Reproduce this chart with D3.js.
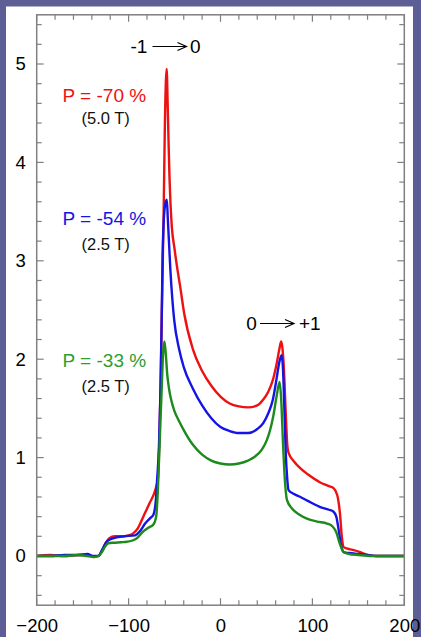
<!DOCTYPE html>
<html><head><meta charset="utf-8">
<script src="https://cdn.jsdelivr.net/npm/d3@7"></script>
<style>html,body{margin:0;padding:0;background:#5e5e96;}svg{display:block;}</style>
</head><body>
<script>
const xTickLabels = [-200, -100, 0, 100, 200];
const yTickLabels = [0, 1, 2, 3, 4, 5];
const seriesNames = ["red", "blue", "green"];
const polarizationLabels = ["P = -70 %", "P = -54 %", "P = -33 %"];
const fieldLabels = ["(5.0 T)", "(2.5 T)", "(2.5 T)"];
const transitionLabels = [["-1", "0"], ["0", "+1"]];

const redCurve = [[-200,0],[-185,0.01],[-170,0],[-155,0.01],[-145,0.01],[-138,-0.01],[-133,0],[-129,0.05],[-125,0.13],[-121,0.18],[-115,0.2],[-108,0.2],[-100,0.21],[-95,0.23],[-90,0.28],[-84,0.4],[-77,0.54],[-71,0.67],[-68,0.8],[-66.5,1.2],[-65,1.8],[-64,2.4],[-62,3.4],[-60.5,4.4],[-58.6,4.95],[-57.5,4.6],[-56.5,4.2],[-55.5,3.85],[-54.5,3.6],[-53,3.35],[-50,3.12],[-47,2.92],[-43.9,2.74],[-39.6,2.47],[-30,2.1],[-20,1.88],[-10,1.73],[0,1.62],[10,1.55],[20,1.52],[30,1.51],[40,1.53],[46.5,1.59],[52,1.67],[57,1.79],[61,1.95],[64,2.1],[66,2.18],[67.3,2.12],[69,1.9],[71,1.45],[72.5,1.15],[74,1.05],[80,0.96],[87,0.89],[95,0.83],[108,0.75],[118,0.71],[123,0.69],[127,0.62],[130,0.43],[132,0.2],[134,0.09],[140,0.07],[145,0.06],[152,0.04],[160,0.01],[170,0],[185,0],[200,0]];
const blueCurve = [[-200,0],[-185,0],[-170,0.01],[-155,0.01],[-145,0.02],[-138,0],[-133,0],[-129,0.06],[-124,0.145],[-117,0.18],[-105,0.2],[-93,0.21],[-87,0.26],[-82,0.33],[-77,0.38],[-73,0.42],[-70.5,0.55],[-69,0.77],[-67,1.1],[-65.5,1.6],[-64,2.4],[-63,3.05],[-61.5,3.45],[-60,3.58],[-58.4,3.62],[-57.3,3.42],[-56,3.18],[-54.5,2.9],[-52.5,2.62],[-50.4,2.4],[-45,2.1],[-40,1.92],[-30,1.7],[-20,1.53],[-10,1.4],[0,1.31],[10,1.27],[20,1.25],[30,1.25],[40,1.29],[46.5,1.35],[52,1.45],[57,1.59],[61,1.8],[64,1.97],[66.5,2.04],[68,1.9],[69.5,1.5],[71,1.05],[72.5,0.8],[74,0.67],[80,0.63],[87,0.6],[95,0.56],[108,0.5],[118,0.47],[123,0.45],[126,0.4],[128,0.3],[131,0.12],[134,0.04],[140,0.03],[150,0.02],[160,0.01],[170,0],[185,0],[200,0]];
const greenCurve = [[-200,0],[-185,0],[-170,0],[-155,0.01],[-145,0],[-138,-0.01],[-133,0],[-129,0.04],[-126,0.09],[-122,0.13],[-116,0.135],[-108,0.14],[-102,0.145],[-95,0.16],[-91,0.18],[-84,0.25],[-78,0.29],[-73,0.32],[-70,0.4],[-68,0.7],[-66,1.2],[-64,1.7],[-62.5,2.05],[-61,2.18],[-59.5,2.05],[-58,1.85],[-56,1.7],[-54,1.6],[-50,1.47],[-45,1.37],[-40,1.28],[-30,1.13],[-20,1.03],[-10,0.97],[0,0.94],[10,0.93],[20,0.94],[30,0.97],[36,1.0],[45,1.08],[50.5,1.18],[54,1.28],[57.4,1.42],[61,1.62],[64.3,1.77],[66,1.6],[68,1.15],[70,0.78],[72.3,0.57],[78,0.48],[86,0.42],[94,0.38],[105,0.35],[116,0.33],[122,0.3],[126,0.24],[130,0.12],[134,0.04],[140,0.02],[150,0.01],[165,0],[185,0],[200,0]];

const W = 421, H = 637;
const svg = d3.select("body").append("svg").attr("width", W).attr("height", H);
svg.append("rect").attr("x", 0).attr("y", 0).attr("width", W).attr("height", H).attr("fill", "#5e5e96");
svg.append("rect").attr("x", 6).attr("y", 6.5).attr("width", 407).attr("height", H).attr("fill", "#ffffff");

const x = d3.scaleLinear().domain([-200, 200]).range([36.7, 404.3]);
const y = d3.scaleLinear().domain([-0.5, 5.5]).range([605.2, 14.8]);
const frameColor = "#808080";
const font = "Arial, 'Liberation Sans', sans-serif";

const xMinor = d3.range(-200, 201, 20);
const yMinor = d3.range(-4, 55, 2).map(d => d / 10);
const g = svg.append("g");
xMinor.forEach(v => {
  const major = v % 100 === 0;
  const L = major ? 7 : 5;
  g.append("line").attr("x1", x(v)).attr("x2", x(v)).attr("y1", y(-0.5)).attr("y2", y(-0.5) - L).attr("stroke", frameColor).attr("stroke-width", 1.2);
  g.append("line").attr("x1", x(v)).attr("x2", x(v)).attr("y1", y(5.5)).attr("y2", y(5.5) + L).attr("stroke", frameColor).attr("stroke-width", 1.2);
});
yMinor.forEach(v => {
  const major = Math.abs(v - Math.round(v)) < 1e-6;
  const L = major ? 7 : 5;
  g.append("line").attr("x1", x(-200)).attr("x2", x(-200) + L).attr("y1", y(v)).attr("y2", y(v)).attr("stroke", frameColor).attr("stroke-width", 1.2);
  g.append("line").attr("x1", x(200)).attr("x2", x(200) - L).attr("y1", y(v)).attr("y2", y(v)).attr("stroke", frameColor).attr("stroke-width", 1.2);
});

const xAxis = svg.append("g").attr("transform", `translate(0,${y(-0.5)})`)
  .call(d3.axisBottom(x).tickValues(xTickLabels).tickSize(0).tickPadding(14).tickFormat(d3.format("d")));
xAxis.select(".domain").remove();
xAxis.selectAll("text").attr("font-family", font).attr("font-size", 18.5).attr("fill", "#000");
const yAxis = svg.append("g").attr("transform", `translate(${x(-200)},0)`)
  .call(d3.axisLeft(y).tickValues(yTickLabels).tickSize(0).tickPadding(11).tickFormat(d3.format("d")));
yAxis.select(".domain").remove();
yAxis.selectAll("text").attr("font-family", font).attr("font-size", 18.5).attr("fill", "#000");

const colors = { red: "#ee1111", blue: "#1414e6", green: "#1c8a1c" };
const curves = { red: redCurve, blue: blueCurve, green: greenCurve };
const line = d3.line().x(d => x(d[0])).y(d => y(d[1])).curve(d3.curveMonotoneX);
seriesNames.forEach(n => {
  svg.append("path").datum(curves[n]).attr("d", line).attr("fill", "none")
    .attr("stroke", colors[n]).attr("stroke-width", 2.4).attr("stroke-linejoin", "round");
});

svg.append("rect").attr("x", x(-200)).attr("y", y(5.5)).attr("width", x(200) - x(-200)).attr("height", y(-0.5) - y(5.5))
  .attr("fill", "none").attr("stroke", frameColor).attr("stroke-width", 1.5);

const textColors = ["#ee1111", "#1414e6", "#2e9e2e"];
const pY = [101.7, 225, 367];
const fY = [124, 250, 392];
polarizationLabels.forEach((t, i) => {
  svg.append("text").attr("x", 62.5).attr("y", pY[i]).text(t).attr("font-family", font).attr("font-size", 19).attr("fill", textColors[i]);
  svg.append("text").attr("x", 81.5).attr("y", fY[i]).text(fieldLabels[i]).attr("font-family", font).attr("font-size", 16.5).attr("fill", "#111");
});

function transition(lbl, x0, xa0, xa1, x1, yc) {
  svg.append("text").attr("x", x0).attr("y", yc + 6.7).text(lbl[0]).attr("font-family", font).attr("font-size", 19).attr("fill", "#000");
  svg.append("line").attr("x1", xa0).attr("x2", xa1).attr("y1", yc).attr("y2", yc).attr("stroke", "#000").attr("stroke-width", 1.2);
  svg.append("polyline").attr("points", `${xa1 - 9},${yc - 4} ${xa1},${yc} ${xa1 - 9},${yc + 4}`).attr("fill", "none").attr("stroke", "#000").attr("stroke-width", 1.2);
  svg.append("text").attr("x", x1).attr("y", yc + 6.7).text(lbl[1]).attr("font-family", font).attr("font-size", 19).attr("fill", "#000");
}
transition(transitionLabels[0], 130.5, 152.5, 186.5, 190, 46.5);
transition(transitionLabels[1], 246.2, 260, 294, 299, 323.5);
</script>
</body></html>
